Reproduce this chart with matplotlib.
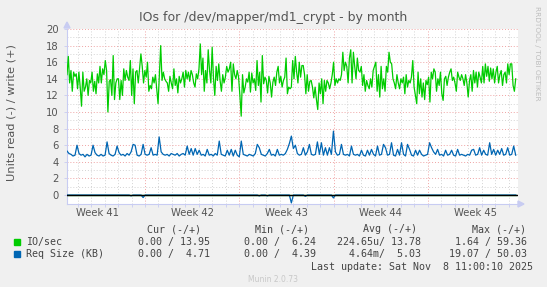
import numpy as np
import matplotlib
matplotlib.use("Agg")
import matplotlib.pyplot as plt
from matplotlib.patches import Rectangle, Polygon
from matplotlib.transforms import blended_transform_factory

# ---------------- data ----------------
title = "IOs for /dev/mapper/md1_crypt - by month"
ylabel = "Units read (-) / write (+)"
week_labels = ["Week 41", "Week 42", "Week 43", "Week 44", "Week 45"]
y_ticks = [0, 2, 4, 6, 8, 10, 12, 14, 16, 18, 20]

# IO/sec write (+) values
io_write = [
    14.5, 16.7, 13.5, 15, 12.5, 14.8, 14.3, 14.6, 12.8, 14.8, 13, 10.7, 14.8, 12.5, 13, 14, 12, 13.8,
    13.5, 14.8, 12.5, 13.7, 12.2, 14.6, 13.5, 15.5, 13.5, 15.2, 14.5, 16.2, 15, 10, 13.7, 13.9, 12,
    16.8, 11.5, 13.5, 14, 14, 11.5, 13.8, 12, 15.2, 13.8, 15, 14.2, 13.8, 16.2, 12, 15.2, 11, 14.8,
    15, 13.5, 15.3, 17, 15.5, 13.5, 15, 14.2, 16, 12.5, 13.2, 12.8, 14.2, 13.5, 14.5, 12.7, 11, 14.6,
    18, 13.8, 14.8, 14, 13.7, 13.5, 12.5, 14.3, 13.5, 12.8, 15.2, 13.2, 14, 12.3, 14.3, 13.5, 14,
    14.8, 13, 15, 14, 14.8, 13.7, 15, 14.5, 13.5, 13, 14.6, 14, 15.2, 18.2, 14.5, 16.5, 12.5, 15,
    13.5, 17.5, 15, 13.5, 17.8, 14, 12, 15.5, 13.8, 15.8, 13.8, 12.5, 14.5, 13.5, 14.2, 15.5, 14.8,
    15.2, 16, 12.5, 15.8, 14.5, 14, 15, 14.2, 12, 9.5, 14.5, 12.3, 13, 14, 13.6, 14.8, 12.4, 14.7,
    13.5, 14, 12.6, 16.2, 13.2, 14.8, 11.2, 16.8, 13.4, 14.2, 13.8, 12.3, 14.3, 13.5, 11.8, 13.6,
    14.2, 13.2, 14.8, 15.5, 13.5,
    14.3, 13, 13.8, 14.2, 16.5, 12.2, 13, 12.8, 13, 16.2, 14, 16.7, 14.8, 13.5, 16, 14.2, 15.6, 15.6,
    14.5, 12.2, 14.5, 12.5, 13.7, 13.8, 13, 11.7, 13, 11.5, 10.3, 13.5, 12.2, 14, 11, 13.8, 12.5,
    13.8, 13.5, 12.8, 13.5, 14.5, 16, 13.2, 14, 13.5, 14, 13.8, 14.5, 17.2, 15, 16, 15.5, 13.5, 16.5,
    17.5, 13.5, 17.2, 15.5, 14, 16.5, 15, 14.8, 15.5, 13.2, 14.5, 12.5, 13.8, 13.2, 12.8, 14, 13, 15,
    15.5, 16, 12.5, 14.5, 11.8, 15.5, 12.8, 14, 12.5, 15.5, 14.8, 17.2, 16, 15.8, 14, 13.5, 12.8,
    14.5, 13.5, 12.8, 14, 13.5, 14.2, 12.2, 14.5, 13, 13.8, 13.5, 14.2, 16.2, 13, 12, 11, 14.8, 12.2,
    14, 11.8, 13.5, 11.5, 13.8, 13.3, 14.2, 11.2, 14.8, 14, 15.2, 14.8, 12.5, 14, 13.2, 14.8, 12.2,
    11.4, 14, 14.3, 13.2, 14.2, 14.8, 15.2, 13.8, 14.2, 13.5, 12.5, 14.8, 14.2, 13.8, 14.5, 14, 13.2,
    14.5, 13.5, 11.8, 13.8, 14.5, 12.5, 15, 13.5, 14.8, 13, 14.8, 14.2, 13.5, 15.5, 13.5, 15.8, 14.3,
    15.5, 13.7, 15.3, 14, 15.2, 13.5, 14.8, 15.5, 13.5, 14.5, 15, 13.2, 14.5, 14.8, 13.5, 15.8, 14.5,
    15.8, 15.8, 13.2, 12.5, 14,
]

# Req Size (KB) write (+) values
req_write = [
    5.3, 5.0, 4.9, 4.7, 4.8, 6.0, 5.0, 4.8, 4.9, 4.6,
    4.9, 4.7, 4.8, 6.0, 5.1, 4.8, 4.7, 4.9, 4.7, 4.8,
    6.4, 5.0, 4.8, 4.7, 4.9, 5.9, 5.1, 4.8, 4.9, 4.7,
    5.0, 4.8, 5.2, 6.1, 6.0, 4.8, 4.7, 4.9, 6.1, 4.9,
    4.8, 4.9, 5.7, 4.8, 4.9, 4.8, 7.0, 5.2, 4.9, 4.8,
    4.9, 4.7, 5.0, 4.9, 4.8, 5.0, 4.7, 4.9, 5.0, 4.8,
    5.9, 4.9, 5.6, 4.8, 5.6, 4.9, 5.4, 4.8, 4.9, 4.7,
    5.5, 4.8, 4.9, 4.7, 5.0, 4.8, 6.5, 4.9, 4.8, 4.7,
    5.4, 4.8, 5.5, 4.7, 5.4, 4.8, 4.6, 6.5, 4.9, 4.8,
    4.7, 4.9, 4.8, 4.7, 5.0, 6.1, 5.7, 4.9, 4.8, 4.7,
    5.0, 5.5, 4.8, 4.9, 4.7, 5.5, 4.8, 4.9, 4.8, 5.0,
    5.5, 6.2, 7.1, 5.6, 6.0, 5.0, 4.8, 4.9, 5.7, 4.8,
    5.2, 6.1, 4.9, 4.8, 4.9, 6.4, 4.9, 6.3, 4.8, 5.7,
    4.8, 5.7, 4.9, 7.7, 5.2, 4.8, 4.9, 6.1, 4.9, 4.8,
    4.9, 4.7, 5.9, 4.9, 4.8, 4.9, 4.7, 5.4, 4.8, 4.7,
    5.4, 4.8, 5.5, 4.9, 4.7, 5.9, 4.8, 4.9, 6.1, 5.7,
    4.8, 4.9, 6.3, 4.8, 4.7, 5.5, 4.8, 6.3, 4.9, 4.7,
    6.1, 5.5, 4.8, 4.7, 5.4, 4.8, 5.4, 4.9, 4.7, 4.8,
    4.9, 6.3, 5.7, 5.2, 4.9, 5.5, 4.8, 4.9, 4.7, 5.4,
    4.8, 4.9, 5.4, 4.8, 4.7, 5.5, 4.8, 4.9, 4.8, 4.7,
    4.9, 4.8, 5.4, 5.5, 4.8, 4.9, 5.7, 4.8, 5.4, 4.9,
    4.8, 6.3, 4.9, 5.5, 4.8, 5.4, 4.9, 5.6, 4.8, 4.9,
    5.7, 4.8, 4.9, 5.9, 4.8,
]

# Req Size (KB) read (-) values (plotted negative)
req_read = ([0.0] * 32 + [0.1] + [0.0] * 5 + [0.3] + [0.0] * 57 + [0.1] + [0.0] * 3 + [0.1]
            + [0.0] * 11 + [0.95] + [0.0] * 6 + [0.15] + [0.0] * 13 + [0.35] + [0.0] * 91)
io_read = [0.0] * 2

legend_rows = [
    ("IO/sec", "0.00 / 13.95", "0.00 /  6.24", "224.65u/ 13.78", "1.64 / 59.36"),
    ("Req Size (KB)", "0.00 /  4.71", "0.00 /  4.39", "4.64m/  5.03", "19.07 / 50.03"),
]
legend_headers = ["Cur (-/+)", "Min (-/+)", "Avg (-/+)", "Max (-/+)"]
last_update = "Last update: Sat Nov  8 11:00:10 2025"
munin_version = "Munin 2.0.73"
watermark = "RRDTOOL / TOBI OETIKER"

# ---------------- layout / style ----------------
W, H = 547, 287
GREEN = "#00CC00"
BLUE = "#0066B3"
TEXT = "#555555"
AXISC = "#C8CCF2"

# time axis in days relative to start of week 42
t_start, t_data_end, t_end = -5.79, 27.52, 27.69


def fx(px):
    return px / W


def fy(py):
    return 1 - py / H


fig = plt.figure(figsize=(W / 100, H / 100), dpi=100, facecolor="#F0F0F0")
ax = fig.add_axes([fx(67), fy(204), (518 - 67) / W, (204 - 29) / H])
ax.set_facecolor("white")
ax.set_xlim(t_start, t_end)
ax.set_ylim(-1.08, 20)

# grid
days = np.arange(np.ceil(t_start), t_end)
weeks = np.arange(-7, t_end, 7)
for d in days:
    if d % 7 != 0:
        ax.axvline(d, color="#D4D4D4", lw=0.7, ls=(0, (1, 2)), zorder=1)
for w in weeks:
    if t_start < w < t_end:
        ax.axvline(w, color="#EFA3A3", lw=0.7, ls=(0, (1, 2)), zorder=1.1)
for yv in range(0, 21):
    if yv % 2:
        ax.axhline(yv, color="#D4D4D4", lw=0.7, ls=(0, (1, 2)), zorder=1)
    else:
        ax.axhline(yv, color="#EFA3A3", lw=0.7, ls=(0, (1, 2)), zorder=1.1)

# data
tw = np.linspace(t_start, t_data_end, len(io_write))
tr = np.linspace(t_start, t_data_end, len(req_write))
ax.plot(tw, io_write, color=GREEN, lw=0.9, zorder=3)
ax.plot([t_start, t_data_end], -np.array(io_read), color=GREEN, lw=0.9, zorder=3)
ax.plot(tr, req_write, color=BLUE, lw=0.9, zorder=3)
ax.plot(tr, -np.array(req_read), color=BLUE, lw=0.9, zorder=3)
ax.axhline(0, color="black", lw=1.0, zorder=4)

# axes decoration
for s in ["top", "right"]:
    ax.spines[s].set_visible(False)
for s in ["left", "bottom"]:
    ax.spines[s].set_color(AXISC)
    ax.spines[s].set_linewidth(0.8)

ax.set_yticks(y_ticks)
ax.set_yticklabels([str(v) for v in y_ticks])
ax.tick_params(axis="y", length=2, width=0.6, color=AXISC, labelsize=7.2,
               labelcolor=TEXT, pad=4)
ax.set_xticks(weeks[(weeks > t_start) & (weeks < t_end)])
ax.set_xticklabels([])
ax.set_xticks(days, minor=True)
ax.tick_params(axis="x", which="both", length=2, width=0.6, color=AXISC)

tr_x = blended_transform_factory(ax.transData, fig.transFigure)
for i, lab in enumerate(week_labels):
    ax.text(weeks[0] + 3.5 + 7 * i, fy(213.5), lab, transform=tr_x, ha="center",
            va="center", fontsize=7.2, color=TEXT, clip_on=False)

# arrows on axes
fig.patches.append(Polygon(
    [[fx(64), fy(28)], [fx(70), fy(28)], [fx(67), fy(22)]],
    closed=True, transform=fig.transFigure, color=AXISC))
fig.patches.append(Polygon(
    [[fx(518), fy(201)], [fx(518), fy(207)], [fx(524), fy(204)]],
    closed=True, transform=fig.transFigure, color=AXISC))

# title, labels
fig.text(0.5, fy(18), title, ha="center", va="center", fontsize=9, color=TEXT)
fig.text(fx(11.5), fy(113), ylabel, ha="center", va="center", rotation=90,
         fontsize=8.2, color=TEXT)
fig.text(fx(537), fy(53), watermark, ha="center", va="center", rotation=270,
         fontsize=5.3, color="#BDBDBD")

# legend
MONO = "DejaVu Sans Mono"
LFS = 7.2
col_right_hdr = [201, 309, 417, 526]
col_right_val = [210, 316, 421, 527]
for h, xr in zip(legend_headers, col_right_hdr):
    fig.text(fx(xr), fy(229), h, ha="right", va="center", family=MONO,
             fontsize=LFS, color="#444444")
row_y = [242, 254]
colors = [GREEN, BLUE]
for (lab, *vals), yy, c in zip(legend_rows, row_y, colors):
    fig.patches.append(Rectangle((fx(14), fy(yy + 3)), 6 / W, 6 / H,
                                 transform=fig.transFigure, color=c))
    fig.text(fx(26), fy(yy), lab, ha="left", va="center", family=MONO,
             fontsize=LFS, color="#444444")
    for v, xr in zip(vals, col_right_val):
        fig.text(fx(xr), fy(yy), v, ha="right", va="center", family=MONO,
                 fontsize=LFS, color="#444444")
fig.text(fx(533), fy(266.5), last_update, ha="right", va="center", family=MONO,
         fontsize=LFS, color="#444444")
fig.text(0.5, fy(280), munin_version, ha="center", va="center", fontsize=5.5,
         color="#C8C8C8")

fig.savefig("out.png", dpi=100, facecolor=fig.get_facecolor())
